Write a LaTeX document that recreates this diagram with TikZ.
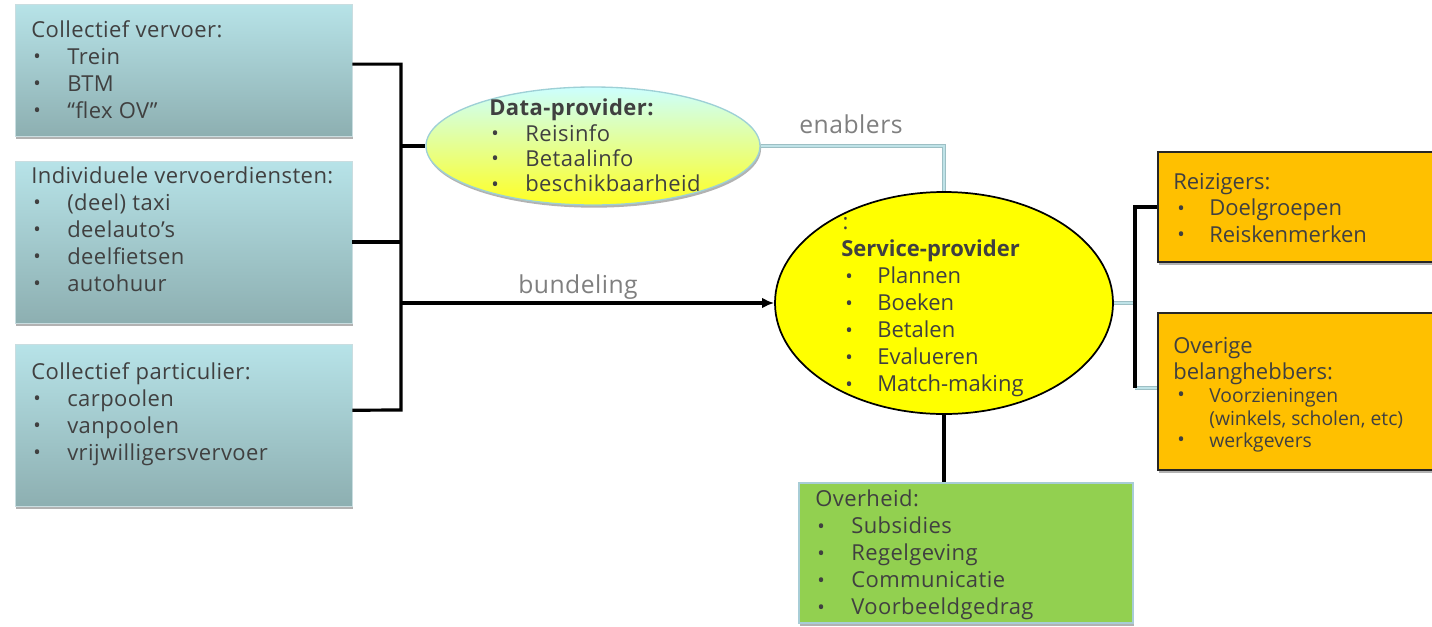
\documentclass[tikz,border=0pt]{standalone}
\usepackage{fontspec}
\setmainfont{Open Sans}[LetterSpace=2]
\newfontfamily\cond{Open Sans}
\usetikzlibrary{shadows,arrows.meta,shapes.geometric}
\newdimen\pxu \pxu=0.75pt
\definecolor{txtc}{HTML}{404040}
\definecolor{lblc}{HTML}{7F7F7F}
\definecolor{tealtop}{HTML}{B7E3E8}
\definecolor{tealbot}{HTML}{8DAFB1}
\definecolor{tealbd}{HTML}{C9DDE0}
\definecolor{dptop}{HTML}{CCFFFF}
\definecolor{dpbot}{HTML}{FFFF22}
\definecolor{dpbd}{HTML}{9ED0D6}
\definecolor{yel}{HTML}{FFFF00}
\definecolor{orn}{HTML}{FFC000}
\definecolor{grn}{HTML}{92D050}
\definecolor{grnbd}{HTML}{A8CDD6}
\definecolor{lb}{HTML}{BFE3E8}
\definecolor{lbd}{HTML}{9DBFC4}
\newcommand\bul{\raisebox{0.6pt}{\fontsize{15}{15}\selectfont\textbullet}}
\newcommand\itm[1]{\makebox[27pt][l]{\hspace{1.5pt}\bul}#1}
\newcommand\itmc[1]{\makebox[27pt][l]{\hspace{3pt}\bul}#1}
\begin{document}
\begin{tikzpicture}[x=0.75pt,y=-0.75pt,
  shad/.style={drop shadow={shadow xshift=0.8pt,shadow yshift=-2pt,opacity=0.3,fill=black}},
  tealbox/.style={rectangle,draw=tealbd,line width=0.6pt,top color=tealtop,bottom color=tealbot,inner sep=0pt,shad},
  ornbox/.style={rectangle,draw=black!85,line width=1.2pt,fill=orn,inner sep=0pt,shad},
  grnbox/.style={rectangle,draw=grnbd,line width=1.2pt,fill=grn,inner sep=0pt,shad},
  txt/.style={anchor=north west,inner sep=0pt,align=left,text=txtc,font=\fontsize{16.5}{20.25}\selectfont},
  lbl/.style={inner sep=0pt,text=lblc,font=\fontsize{18.5}{22}\selectfont},
  blk/.style={draw=black,line width=2.4pt},
  lbl line/.style={draw=lbd,line width=0.5pt,double=lb,double distance=2.2pt}
]
\useasboundingbox (0,0) rectangle (1432,626);
\fill[white] (0,0) rectangle (1432,626);

% left boxes
\node[tealbox,minimum width=337\pxu,minimum height=132\pxu] (c1) at (183.5,70) {};
\node[tealbox,minimum width=337\pxu,minimum height=162\pxu] (c2) at (183.5,242) {};
\node[tealbox,minimum width=337\pxu,minimum height=162\pxu] (c3) at (183.5,425) {};
\node[txt] (t1) at (31,20) {Collectief vervoer:\\\itm{Trein}\\\itm{BTM}\\\itm{\textquotedblleft flex OV\textquotedblright}};
\node[txt,font=\fontsize{16.5}{20.1}\selectfont] (t2) at (31,167) {Individuele vervoerdiensten:\\\itm{(deel) taxi}\\\itm{deelauto\textquoteright s}\\\itm{deelfietsen}\\\itm{autohuur}};
\node[txt] (t3) at (31,362) {Collectief particulier:\\\itm{carpoolen}\\\itm{vanpoolen}\\\itm{vrijwilligersvervoer}};

% data provider
\node[ellipse,draw=dpbd,line width=1pt,top color=dptop,bottom color=dpbot,minimum width=334\pxu,minimum height=118\pxu,inner sep=0pt,shad] (data) at (593,146) {};
\node[txt,font=\fontsize{16.5}{19}\selectfont] (td) at (489,99) {\textbf{Data-provider:}\\\itm{Reisinfo}\\\itm{Betaalinfo}\\\itm{beschikbaarheid}};

% service provider
\node[ellipse,draw=black,line width=1.3pt,fill=yel,minimum width=338\pxu,minimum height=222\pxu,inner sep=0pt] (serv) at (944,303) {};
\node[txt,font=\cond\fontsize{16.5}{20.25}\selectfont] (ts) at (841,213) {\vphantom{l}\hspace{1pt}:\\\textbf{Service-provider}\\\itmc{Plannen}\\\itmc{Boeken}\\\itmc{Betalen}\\\itmc{Evalueren}\\\itmc{Match-making}};

% right boxes
\node[ornbox,minimum width=292\pxu,minimum height=110\pxu] (reiz) at (1304,207) {};
\node[ornbox,minimum width=292\pxu,minimum height=157\pxu] (over) at (1304,391.5) {};
\node[txt,font=\cond\fontsize{16.5}{19.9}\selectfont] (tr) at (1173,173) {Reizigers:\\\itmc{Doelgroepen}\\\itmc{Reiskenmerken}};
\node[txt,font=\cond\fontsize{16.5}{19.5}\selectfont] (to) at (1173,337) {Overige\\belanghebbers:};
\node[txt,font=\cond\fontsize{14.5}{17}\selectfont] (to2) at (1173,388) {\itmc{Voorzieningen}\\\makebox[27pt]{}(winkels, scholen, etc)\\\itmc{werkgevers}};

% overheid
\node[grnbox,minimum width=334\pxu,minimum height=140\pxu] (ovh) at (966,553) {};
\node[txt] (tg) at (815,490) {Overheid:\\\itm{Subsidies}\\\itm{Regelgeving}\\\itm{Communicatie}\\\itm{Voorbeeldgedrag}};

% left bracket
\coordinate (bt) at (401,65);
\coordinate (bb) at (401,410);
\draw[blk] (c1.2) -| (bb) -- (c3.5);
\draw[blk] (c2.east) -- (c2.east -| bt);
\draw[blk] (bt |- data.west) -- (data.west);
\draw[blk,-{Latex[length=9pt,width=8pt]}] (bt |- serv.west) -- (serv.west);
\node[lbl] (lbund) at (578,287) {bundeling};

% enablers
\draw[lbl line] (data.east) -| (serv.north);
\node[lbl] (lenab) at (851,124) {enablers};

% right bracket
\coordinate (rt) at (1135,208);
\coordinate (rb) at (1135,388);
\draw[lbl line] (serv.east) -- (serv.east -| rt);
\draw[lbl line] (rb) -- (rb -| over.west);
\draw[blk] (reiz.west) -| (rb);

% bottom
\draw[blk] (serv.south) -- (serv.south |- ovh.north);
\end{tikzpicture}
\end{document}
